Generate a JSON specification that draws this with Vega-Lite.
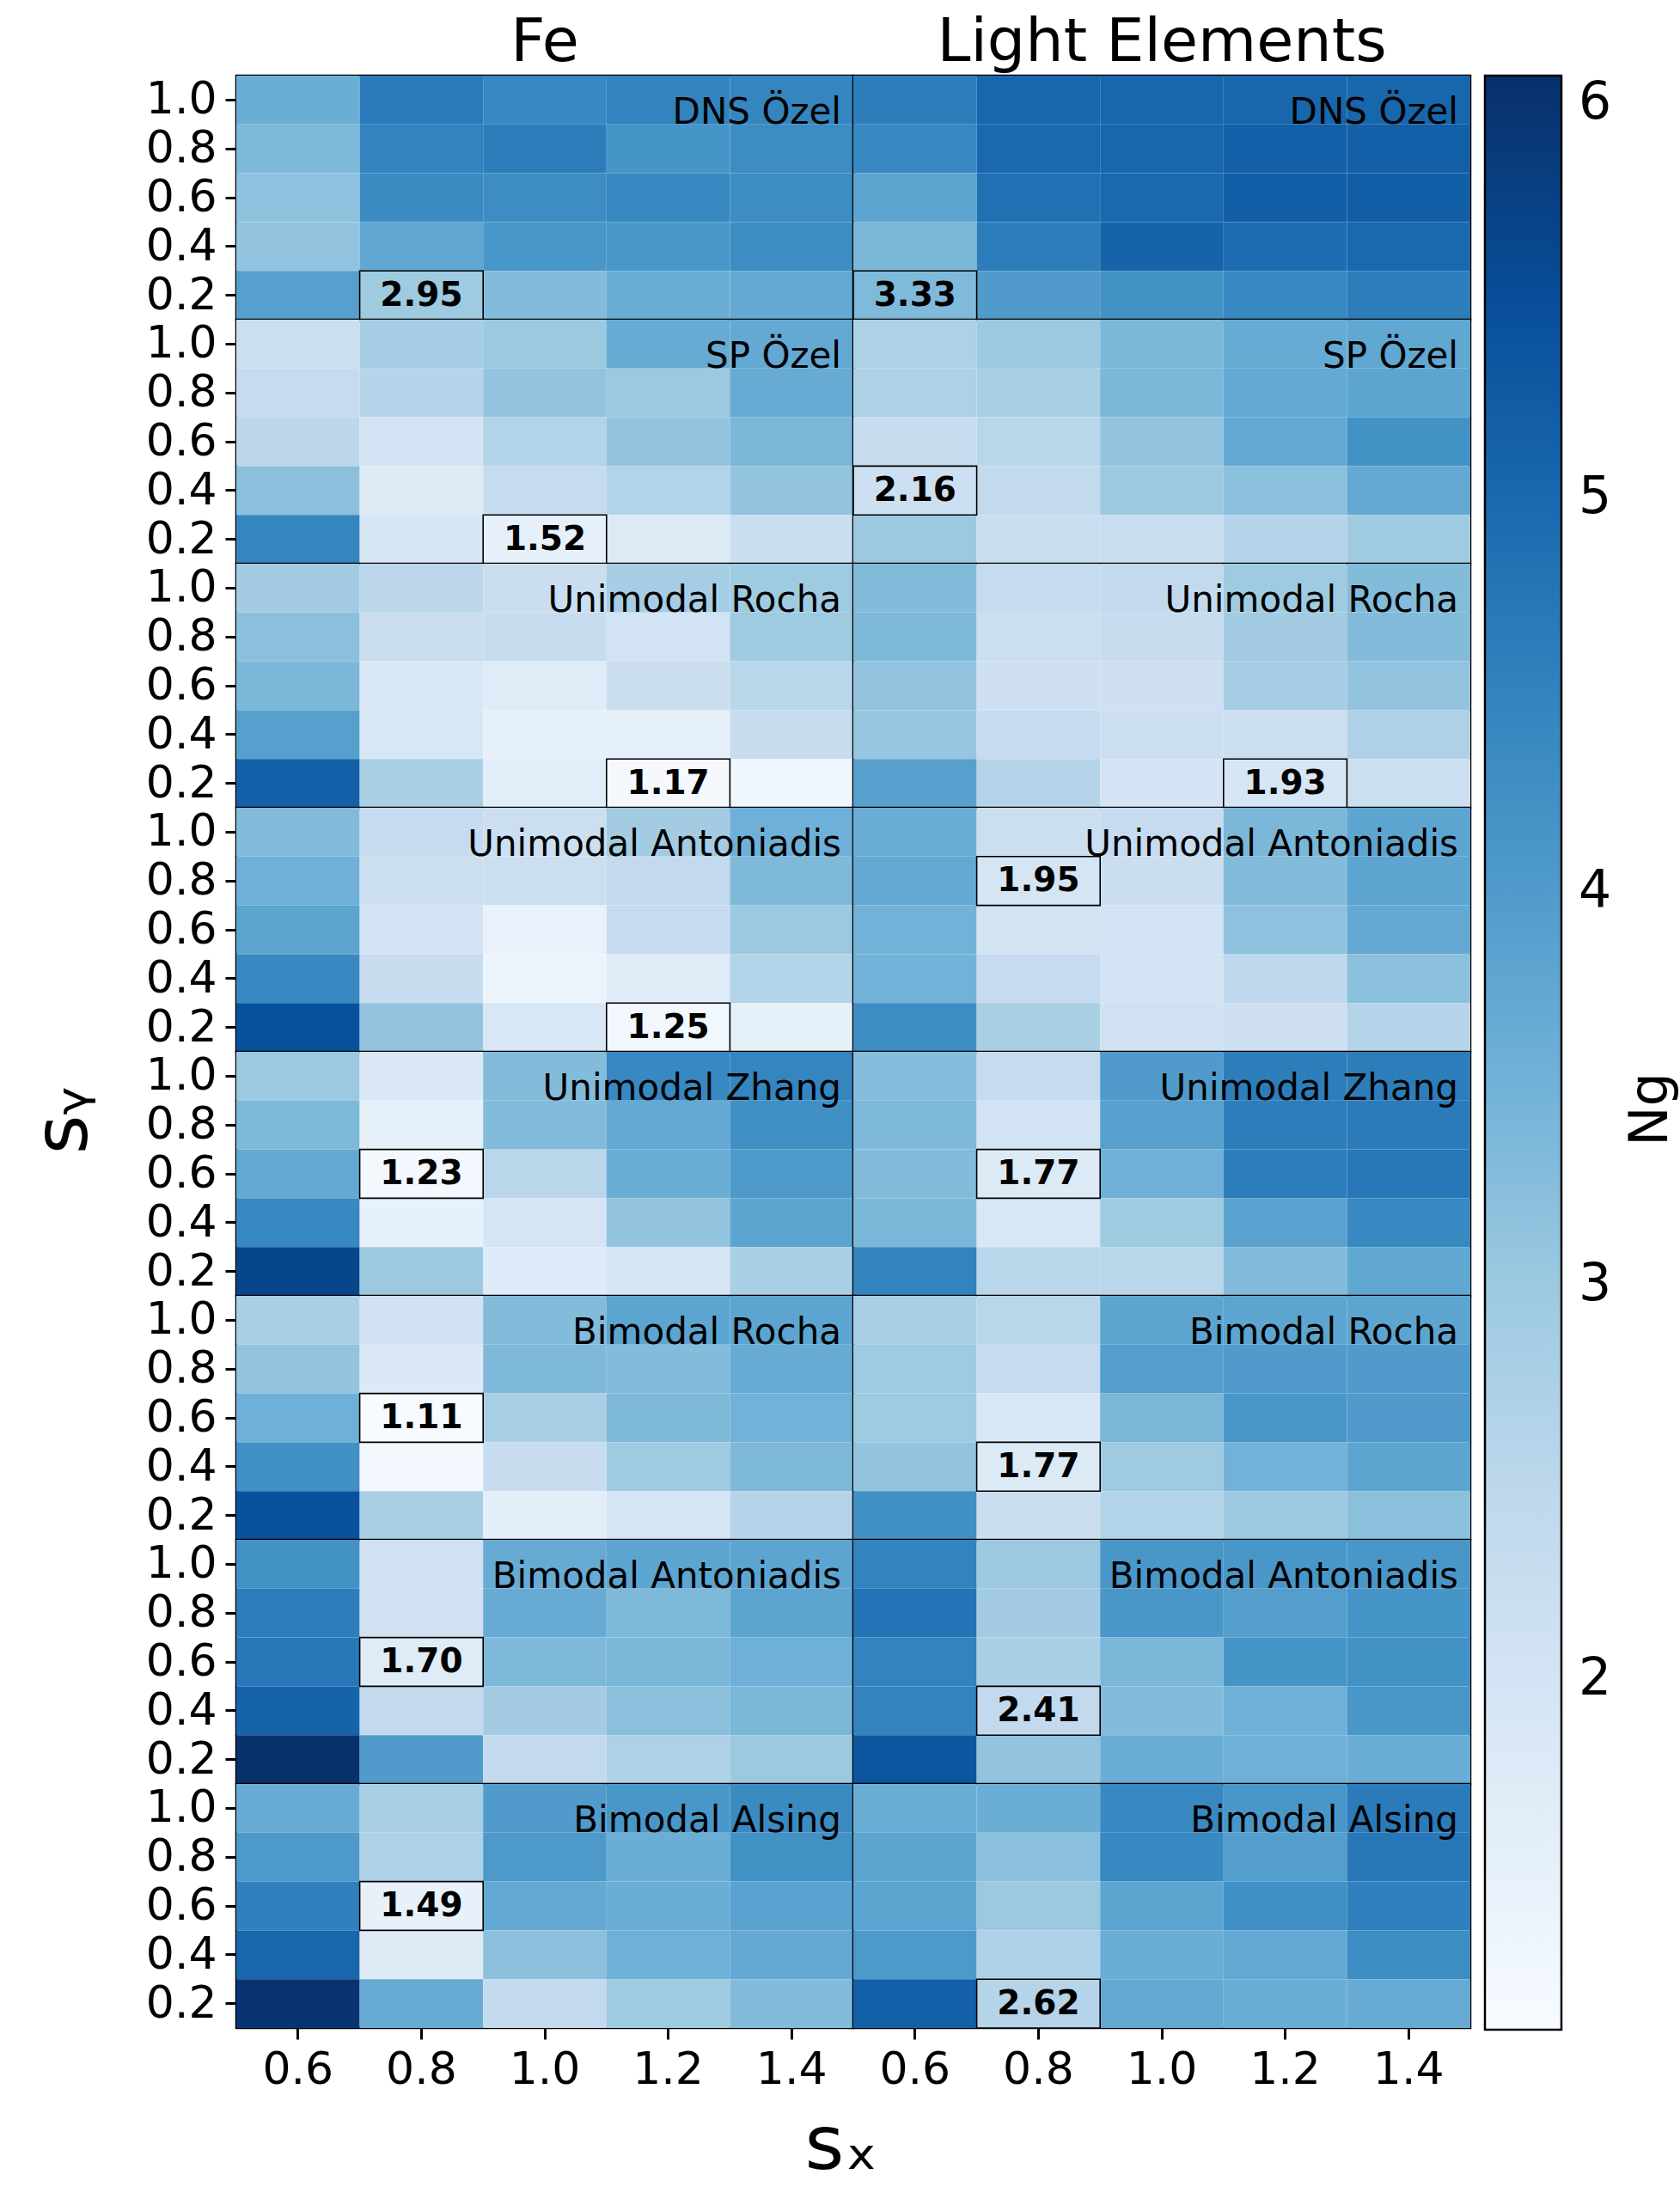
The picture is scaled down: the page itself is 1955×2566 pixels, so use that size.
{
  "$schema": "https://vega.github.io/schema/vega-lite/v6.json",
  "background": "white",
  "bounds": "flush",
  "padding": {"left": 30, "top": 15, "right": 2, "bottom": 5},
  "config": {
    "font": "DejaVu Sans",
    "view": {"stroke": "black", "strokeWidth": 2.5},
    "axis": {"labelFont": "DejaVu Sans", "labelFontSize": 52, "labelColor": "black", "tickColor": "black", "tickWidth": 3, "tickSize": 13, "domain": false, "grid": false, "title": null, "labelPadding": 10},
    "header": {"labelFont": "DejaVu Sans", "titleFont": "DejaVu Sans", "labelColor": "black", "titleColor": "black", "titleFontWeight": "normal"}
  },
  "data": {"values": [
    {"m":"DNS Özel","e":"Fe","sx":"0.6","sy":"1.0","v":3.60},{"m":"DNS Özel","e":"Fe","sx":"0.8","sy":"1.0","v":4.65},{"m":"DNS Özel","e":"Fe","sx":"1.0","sy":"1.0","v":4.40},{"m":"DNS Özel","e":"Fe","sx":"1.2","sy":"1.0","v":4.50},{"m":"DNS Özel","e":"Fe","sx":"1.4","sy":"1.0","v":4.45},
    {"m":"DNS Özel","e":"Fe","sx":"0.6","sy":"0.8","v":3.35},{"m":"DNS Özel","e":"Fe","sx":"0.8","sy":"0.8","v":4.50},{"m":"DNS Özel","e":"Fe","sx":"1.0","sy":"0.8","v":4.60},{"m":"DNS Özel","e":"Fe","sx":"1.2","sy":"0.8","v":4.15},{"m":"DNS Özel","e":"Fe","sx":"1.4","sy":"0.8","v":4.30},
    {"m":"DNS Özel","e":"Fe","sx":"0.6","sy":"0.6","v":3.15},{"m":"DNS Özel","e":"Fe","sx":"0.8","sy":"0.6","v":4.35},{"m":"DNS Özel","e":"Fe","sx":"1.0","sy":"0.6","v":4.30},{"m":"DNS Özel","e":"Fe","sx":"1.2","sy":"0.6","v":4.40},{"m":"DNS Özel","e":"Fe","sx":"1.4","sy":"0.6","v":4.30},
    {"m":"DNS Özel","e":"Fe","sx":"0.6","sy":"0.4","v":3.10},{"m":"DNS Özel","e":"Fe","sx":"0.8","sy":"0.4","v":3.75},{"m":"DNS Özel","e":"Fe","sx":"1.0","sy":"0.4","v":4.10},{"m":"DNS Özel","e":"Fe","sx":"1.2","sy":"0.4","v":4.10},{"m":"DNS Özel","e":"Fe","sx":"1.4","sy":"0.4","v":4.30},
    {"m":"DNS Özel","e":"Fe","sx":"0.6","sy":"0.2","v":3.90},{"m":"DNS Özel","e":"Fe","sx":"0.8","sy":"0.2","v":2.95},{"m":"DNS Özel","e":"Fe","sx":"1.0","sy":"0.2","v":3.30},{"m":"DNS Özel","e":"Fe","sx":"1.2","sy":"0.2","v":3.60},{"m":"DNS Özel","e":"Fe","sx":"1.4","sy":"0.2","v":3.70},

    {"m":"DNS Özel","e":"Light Elements","sx":"0.6","sy":"1.0","v":4.60},{"m":"DNS Özel","e":"Light Elements","sx":"0.8","sy":"1.0","v":5.05},{"m":"DNS Özel","e":"Light Elements","sx":"1.0","sy":"1.0","v":5.05},{"m":"DNS Özel","e":"Light Elements","sx":"1.2","sy":"1.0","v":5.05},{"m":"DNS Özel","e":"Light Elements","sx":"1.4","sy":"1.0","v":5.05},
    {"m":"DNS Özel","e":"Light Elements","sx":"0.6","sy":"0.8","v":4.40},{"m":"DNS Özel","e":"Light Elements","sx":"0.8","sy":"0.8","v":5.00},{"m":"DNS Özel","e":"Light Elements","sx":"1.0","sy":"0.8","v":5.05},{"m":"DNS Özel","e":"Light Elements","sx":"1.2","sy":"0.8","v":5.15},{"m":"DNS Özel","e":"Light Elements","sx":"1.4","sy":"0.8","v":5.15},
    {"m":"DNS Özel","e":"Light Elements","sx":"0.6","sy":"0.6","v":3.80},{"m":"DNS Özel","e":"Light Elements","sx":"0.8","sy":"0.6","v":4.85},{"m":"DNS Özel","e":"Light Elements","sx":"1.0","sy":"0.6","v":5.00},{"m":"DNS Özel","e":"Light Elements","sx":"1.2","sy":"0.6","v":5.20},{"m":"DNS Özel","e":"Light Elements","sx":"1.4","sy":"0.6","v":5.20},
    {"m":"DNS Özel","e":"Light Elements","sx":"0.6","sy":"0.4","v":3.40},{"m":"DNS Özel","e":"Light Elements","sx":"0.8","sy":"0.4","v":4.60},{"m":"DNS Özel","e":"Light Elements","sx":"1.0","sy":"0.4","v":5.10},{"m":"DNS Özel","e":"Light Elements","sx":"1.2","sy":"0.4","v":4.90},{"m":"DNS Özel","e":"Light Elements","sx":"1.4","sy":"0.4","v":5.00},
    {"m":"DNS Özel","e":"Light Elements","sx":"0.6","sy":"0.2","v":3.33},{"m":"DNS Özel","e":"Light Elements","sx":"0.8","sy":"0.2","v":4.00},{"m":"DNS Özel","e":"Light Elements","sx":"1.0","sy":"0.2","v":4.20},{"m":"DNS Özel","e":"Light Elements","sx":"1.2","sy":"0.2","v":4.40},{"m":"DNS Özel","e":"Light Elements","sx":"1.4","sy":"0.2","v":4.60},

    {"m":"SP Özel","e":"Fe","sx":"0.6","sy":"1.0","v":2.20},{"m":"SP Özel","e":"Fe","sx":"0.8","sy":"1.0","v":2.85},{"m":"SP Özel","e":"Fe","sx":"1.0","sy":"1.0","v":3.00},{"m":"SP Özel","e":"Fe","sx":"1.2","sy":"1.0","v":3.65},{"m":"SP Özel","e":"Fe","sx":"1.4","sy":"1.0","v":3.70},
    {"m":"SP Özel","e":"Fe","sx":"0.6","sy":"0.8","v":2.35},{"m":"SP Özel","e":"Fe","sx":"0.8","sy":"0.8","v":2.60},{"m":"SP Özel","e":"Fe","sx":"1.0","sy":"0.8","v":3.10},{"m":"SP Özel","e":"Fe","sx":"1.2","sy":"0.8","v":3.00},{"m":"SP Özel","e":"Fe","sx":"1.4","sy":"0.8","v":3.65},
    {"m":"SP Özel","e":"Fe","sx":"0.6","sy":"0.6","v":2.50},{"m":"SP Özel","e":"Fe","sx":"0.8","sy":"0.6","v":2.05},{"m":"SP Özel","e":"Fe","sx":"1.0","sy":"0.6","v":2.65},{"m":"SP Özel","e":"Fe","sx":"1.2","sy":"0.6","v":3.10},{"m":"SP Özel","e":"Fe","sx":"1.4","sy":"0.6","v":3.40},
    {"m":"SP Özel","e":"Fe","sx":"0.6","sy":"0.4","v":3.20},{"m":"SP Özel","e":"Fe","sx":"0.8","sy":"0.4","v":1.73},{"m":"SP Özel","e":"Fe","sx":"1.0","sy":"0.4","v":2.35},{"m":"SP Özel","e":"Fe","sx":"1.2","sy":"0.4","v":2.65},{"m":"SP Özel","e":"Fe","sx":"1.4","sy":"0.4","v":3.10},
    {"m":"SP Özel","e":"Fe","sx":"0.6","sy":"0.2","v":4.45},{"m":"SP Özel","e":"Fe","sx":"0.8","sy":"0.2","v":1.95},{"m":"SP Özel","e":"Fe","sx":"1.0","sy":"0.2","v":1.52},{"m":"SP Özel","e":"Fe","sx":"1.2","sy":"0.2","v":1.78},{"m":"SP Özel","e":"Fe","sx":"1.4","sy":"0.2","v":2.25},

    {"m":"SP Özel","e":"Light Elements","sx":"0.6","sy":"1.0","v":2.70},{"m":"SP Özel","e":"Light Elements","sx":"0.8","sy":"1.0","v":3.00},{"m":"SP Özel","e":"Light Elements","sx":"1.0","sy":"1.0","v":3.40},{"m":"SP Özel","e":"Light Elements","sx":"1.2","sy":"1.0","v":3.65},{"m":"SP Özel","e":"Light Elements","sx":"1.4","sy":"1.0","v":3.75},
    {"m":"SP Özel","e":"Light Elements","sx":"0.6","sy":"0.8","v":2.70},{"m":"SP Özel","e":"Light Elements","sx":"0.8","sy":"0.8","v":2.80},{"m":"SP Özel","e":"Light Elements","sx":"1.0","sy":"0.8","v":3.40},{"m":"SP Özel","e":"Light Elements","sx":"1.2","sy":"0.8","v":3.70},{"m":"SP Özel","e":"Light Elements","sx":"1.4","sy":"0.8","v":3.80},
    {"m":"SP Özel","e":"Light Elements","sx":"0.6","sy":"0.6","v":2.30},{"m":"SP Özel","e":"Light Elements","sx":"0.8","sy":"0.6","v":2.55},{"m":"SP Özel","e":"Light Elements","sx":"1.0","sy":"0.6","v":3.10},{"m":"SP Özel","e":"Light Elements","sx":"1.2","sy":"0.6","v":3.70},{"m":"SP Özel","e":"Light Elements","sx":"1.4","sy":"0.6","v":4.20},
    {"m":"SP Özel","e":"Light Elements","sx":"0.6","sy":"0.4","v":2.16},{"m":"SP Özel","e":"Light Elements","sx":"0.8","sy":"0.4","v":2.40},{"m":"SP Özel","e":"Light Elements","sx":"1.0","sy":"0.4","v":3.00},{"m":"SP Özel","e":"Light Elements","sx":"1.2","sy":"0.4","v":3.20},{"m":"SP Özel","e":"Light Elements","sx":"1.4","sy":"0.4","v":3.70},
    {"m":"SP Özel","e":"Light Elements","sx":"0.6","sy":"0.2","v":3.00},{"m":"SP Özel","e":"Light Elements","sx":"0.8","sy":"0.2","v":2.22},{"m":"SP Özel","e":"Light Elements","sx":"1.0","sy":"0.2","v":2.27},{"m":"SP Özel","e":"Light Elements","sx":"1.2","sy":"0.2","v":2.60},{"m":"SP Özel","e":"Light Elements","sx":"1.4","sy":"0.2","v":2.95},

    {"m":"Unimodal Rocha","e":"Fe","sx":"0.6","sy":"1.0","v":2.90},{"m":"Unimodal Rocha","e":"Fe","sx":"0.8","sy":"1.0","v":2.50},{"m":"Unimodal Rocha","e":"Fe","sx":"1.0","sy":"1.0","v":2.25},{"m":"Unimodal Rocha","e":"Fe","sx":"1.2","sy":"1.0","v":2.85},{"m":"Unimodal Rocha","e":"Fe","sx":"1.4","sy":"1.0","v":2.95},
    {"m":"Unimodal Rocha","e":"Fe","sx":"0.6","sy":"0.8","v":3.20},{"m":"Unimodal Rocha","e":"Fe","sx":"0.8","sy":"0.8","v":2.25},{"m":"Unimodal Rocha","e":"Fe","sx":"1.0","sy":"0.8","v":2.30},{"m":"Unimodal Rocha","e":"Fe","sx":"1.2","sy":"0.8","v":2.05},{"m":"Unimodal Rocha","e":"Fe","sx":"1.4","sy":"0.8","v":2.95},
    {"m":"Unimodal Rocha","e":"Fe","sx":"0.6","sy":"0.6","v":3.40},{"m":"Unimodal Rocha","e":"Fe","sx":"0.8","sy":"0.6","v":1.90},{"m":"Unimodal Rocha","e":"Fe","sx":"1.0","sy":"0.6","v":1.70},{"m":"Unimodal Rocha","e":"Fe","sx":"1.2","sy":"0.6","v":2.25},{"m":"Unimodal Rocha","e":"Fe","sx":"1.4","sy":"0.6","v":2.55},
    {"m":"Unimodal Rocha","e":"Fe","sx":"0.6","sy":"0.4","v":3.90},{"m":"Unimodal Rocha","e":"Fe","sx":"0.8","sy":"0.4","v":1.90},{"m":"Unimodal Rocha","e":"Fe","sx":"1.0","sy":"0.4","v":1.55},{"m":"Unimodal Rocha","e":"Fe","sx":"1.2","sy":"0.4","v":1.55},{"m":"Unimodal Rocha","e":"Fe","sx":"1.4","sy":"0.4","v":2.30},
    {"m":"Unimodal Rocha","e":"Fe","sx":"0.6","sy":"0.2","v":5.15},{"m":"Unimodal Rocha","e":"Fe","sx":"0.8","sy":"0.2","v":2.80},{"m":"Unimodal Rocha","e":"Fe","sx":"1.0","sy":"0.2","v":1.65},{"m":"Unimodal Rocha","e":"Fe","sx":"1.2","sy":"0.2","v":1.17},{"m":"Unimodal Rocha","e":"Fe","sx":"1.4","sy":"0.2","v":1.30},

    {"m":"Unimodal Rocha","e":"Light Elements","sx":"0.6","sy":"1.0","v":3.30},{"m":"Unimodal Rocha","e":"Light Elements","sx":"0.8","sy":"1.0","v":2.35},{"m":"Unimodal Rocha","e":"Light Elements","sx":"1.0","sy":"1.0","v":2.40},{"m":"Unimodal Rocha","e":"Light Elements","sx":"1.2","sy":"1.0","v":2.95},{"m":"Unimodal Rocha","e":"Light Elements","sx":"1.4","sy":"1.0","v":3.30},
    {"m":"Unimodal Rocha","e":"Light Elements","sx":"0.6","sy":"0.8","v":3.35},{"m":"Unimodal Rocha","e":"Light Elements","sx":"0.8","sy":"0.8","v":2.20},{"m":"Unimodal Rocha","e":"Light Elements","sx":"1.0","sy":"0.8","v":2.30},{"m":"Unimodal Rocha","e":"Light Elements","sx":"1.2","sy":"0.8","v":2.90},{"m":"Unimodal Rocha","e":"Light Elements","sx":"1.4","sy":"0.8","v":3.30},
    {"m":"Unimodal Rocha","e":"Light Elements","sx":"0.6","sy":"0.6","v":3.10},{"m":"Unimodal Rocha","e":"Light Elements","sx":"0.8","sy":"0.6","v":2.15},{"m":"Unimodal Rocha","e":"Light Elements","sx":"1.0","sy":"0.6","v":2.15},{"m":"Unimodal Rocha","e":"Light Elements","sx":"1.2","sy":"0.6","v":2.85},{"m":"Unimodal Rocha","e":"Light Elements","sx":"1.4","sy":"0.6","v":3.10},
    {"m":"Unimodal Rocha","e":"Light Elements","sx":"0.6","sy":"0.4","v":3.05},{"m":"Unimodal Rocha","e":"Light Elements","sx":"0.8","sy":"0.4","v":2.35},{"m":"Unimodal Rocha","e":"Light Elements","sx":"1.0","sy":"0.4","v":2.20},{"m":"Unimodal Rocha","e":"Light Elements","sx":"1.2","sy":"0.4","v":2.20},{"m":"Unimodal Rocha","e":"Light Elements","sx":"1.4","sy":"0.4","v":2.70},
    {"m":"Unimodal Rocha","e":"Light Elements","sx":"0.6","sy":"0.2","v":3.90},{"m":"Unimodal Rocha","e":"Light Elements","sx":"0.8","sy":"0.2","v":2.60},{"m":"Unimodal Rocha","e":"Light Elements","sx":"1.0","sy":"0.2","v":2.00},{"m":"Unimodal Rocha","e":"Light Elements","sx":"1.2","sy":"0.2","v":1.93},{"m":"Unimodal Rocha","e":"Light Elements","sx":"1.4","sy":"0.2","v":2.20},

    {"m":"Unimodal Antoniadis","e":"Fe","sx":"0.6","sy":"1.0","v":3.30},{"m":"Unimodal Antoniadis","e":"Fe","sx":"0.8","sy":"1.0","v":2.35},{"m":"Unimodal Antoniadis","e":"Fe","sx":"1.0","sy":"1.0","v":2.20},{"m":"Unimodal Antoniadis","e":"Fe","sx":"1.2","sy":"1.0","v":2.90},{"m":"Unimodal Antoniadis","e":"Fe","sx":"1.4","sy":"1.0","v":3.55},
    {"m":"Unimodal Antoniadis","e":"Fe","sx":"0.6","sy":"0.8","v":3.55},{"m":"Unimodal Antoniadis","e":"Fe","sx":"0.8","sy":"0.8","v":2.20},{"m":"Unimodal Antoniadis","e":"Fe","sx":"1.0","sy":"0.8","v":2.20},{"m":"Unimodal Antoniadis","e":"Fe","sx":"1.2","sy":"0.8","v":2.40},{"m":"Unimodal Antoniadis","e":"Fe","sx":"1.4","sy":"0.8","v":3.35},
    {"m":"Unimodal Antoniadis","e":"Fe","sx":"0.6","sy":"0.6","v":3.80},{"m":"Unimodal Antoniadis","e":"Fe","sx":"0.8","sy":"0.6","v":2.05},{"m":"Unimodal Antoniadis","e":"Fe","sx":"1.0","sy":"0.6","v":1.45},{"m":"Unimodal Antoniadis","e":"Fe","sx":"1.2","sy":"0.6","v":2.35},{"m":"Unimodal Antoniadis","e":"Fe","sx":"1.4","sy":"0.6","v":3.00},
    {"m":"Unimodal Antoniadis","e":"Fe","sx":"0.6","sy":"0.4","v":4.40},{"m":"Unimodal Antoniadis","e":"Fe","sx":"0.8","sy":"0.4","v":2.30},{"m":"Unimodal Antoniadis","e":"Fe","sx":"1.0","sy":"0.4","v":1.35},{"m":"Unimodal Antoniadis","e":"Fe","sx":"1.2","sy":"0.4","v":1.70},{"m":"Unimodal Antoniadis","e":"Fe","sx":"1.4","sy":"0.4","v":2.65},
    {"m":"Unimodal Antoniadis","e":"Fe","sx":"0.6","sy":"0.2","v":5.45},{"m":"Unimodal Antoniadis","e":"Fe","sx":"0.8","sy":"0.2","v":3.10},{"m":"Unimodal Antoniadis","e":"Fe","sx":"1.0","sy":"0.2","v":1.88},{"m":"Unimodal Antoniadis","e":"Fe","sx":"1.2","sy":"0.2","v":1.25},{"m":"Unimodal Antoniadis","e":"Fe","sx":"1.4","sy":"0.2","v":1.55},

    {"m":"Unimodal Antoniadis","e":"Light Elements","sx":"0.6","sy":"1.0","v":3.60},{"m":"Unimodal Antoniadis","e":"Light Elements","sx":"0.8","sy":"1.0","v":2.20},{"m":"Unimodal Antoniadis","e":"Light Elements","sx":"1.0","sy":"1.0","v":2.35},{"m":"Unimodal Antoniadis","e":"Light Elements","sx":"1.2","sy":"1.0","v":3.40},{"m":"Unimodal Antoniadis","e":"Light Elements","sx":"1.4","sy":"1.0","v":3.80},
    {"m":"Unimodal Antoniadis","e":"Light Elements","sx":"0.6","sy":"0.8","v":3.70},{"m":"Unimodal Antoniadis","e":"Light Elements","sx":"0.8","sy":"0.8","v":1.95},{"m":"Unimodal Antoniadis","e":"Light Elements","sx":"1.0","sy":"0.8","v":2.25},{"m":"Unimodal Antoniadis","e":"Light Elements","sx":"1.2","sy":"0.8","v":3.30},{"m":"Unimodal Antoniadis","e":"Light Elements","sx":"1.4","sy":"0.8","v":3.80},
    {"m":"Unimodal Antoniadis","e":"Light Elements","sx":"0.6","sy":"0.6","v":3.50},{"m":"Unimodal Antoniadis","e":"Light Elements","sx":"0.8","sy":"0.6","v":2.02},{"m":"Unimodal Antoniadis","e":"Light Elements","sx":"1.0","sy":"0.6","v":2.05},{"m":"Unimodal Antoniadis","e":"Light Elements","sx":"1.2","sy":"0.6","v":3.15},{"m":"Unimodal Antoniadis","e":"Light Elements","sx":"1.4","sy":"0.6","v":3.70},
    {"m":"Unimodal Antoniadis","e":"Light Elements","sx":"0.6","sy":"0.4","v":3.50},{"m":"Unimodal Antoniadis","e":"Light Elements","sx":"0.8","sy":"0.4","v":2.35},{"m":"Unimodal Antoniadis","e":"Light Elements","sx":"1.0","sy":"0.4","v":2.03},{"m":"Unimodal Antoniadis","e":"Light Elements","sx":"1.2","sy":"0.4","v":2.45},{"m":"Unimodal Antoniadis","e":"Light Elements","sx":"1.4","sy":"0.4","v":3.20},
    {"m":"Unimodal Antoniadis","e":"Light Elements","sx":"0.6","sy":"0.2","v":4.30},{"m":"Unimodal Antoniadis","e":"Light Elements","sx":"0.8","sy":"0.2","v":2.80},{"m":"Unimodal Antoniadis","e":"Light Elements","sx":"1.0","sy":"0.2","v":2.08},{"m":"Unimodal Antoniadis","e":"Light Elements","sx":"1.2","sy":"0.2","v":2.15},{"m":"Unimodal Antoniadis","e":"Light Elements","sx":"1.4","sy":"0.2","v":2.60},

    {"m":"Unimodal Zhang","e":"Fe","sx":"0.6","sy":"1.0","v":3.00},{"m":"Unimodal Zhang","e":"Fe","sx":"0.8","sy":"1.0","v":1.80},{"m":"Unimodal Zhang","e":"Fe","sx":"1.0","sy":"1.0","v":3.30},{"m":"Unimodal Zhang","e":"Fe","sx":"1.2","sy":"1.0","v":4.40},{"m":"Unimodal Zhang","e":"Fe","sx":"1.4","sy":"1.0","v":4.45},
    {"m":"Unimodal Zhang","e":"Fe","sx":"0.6","sy":"0.8","v":3.35},{"m":"Unimodal Zhang","e":"Fe","sx":"0.8","sy":"0.8","v":1.55},{"m":"Unimodal Zhang","e":"Fe","sx":"1.0","sy":"0.8","v":3.30},{"m":"Unimodal Zhang","e":"Fe","sx":"1.2","sy":"0.8","v":3.70},{"m":"Unimodal Zhang","e":"Fe","sx":"1.4","sy":"0.8","v":4.25},
    {"m":"Unimodal Zhang","e":"Fe","sx":"0.6","sy":"0.6","v":3.70},{"m":"Unimodal Zhang","e":"Fe","sx":"0.8","sy":"0.6","v":1.23},{"m":"Unimodal Zhang","e":"Fe","sx":"1.0","sy":"0.6","v":2.55},{"m":"Unimodal Zhang","e":"Fe","sx":"1.2","sy":"0.6","v":3.60},{"m":"Unimodal Zhang","e":"Fe","sx":"1.4","sy":"0.6","v":4.05},
    {"m":"Unimodal Zhang","e":"Fe","sx":"0.6","sy":"0.4","v":4.40},{"m":"Unimodal Zhang","e":"Fe","sx":"0.8","sy":"0.4","v":1.50},{"m":"Unimodal Zhang","e":"Fe","sx":"1.0","sy":"0.4","v":1.95},{"m":"Unimodal Zhang","e":"Fe","sx":"1.2","sy":"0.4","v":3.10},{"m":"Unimodal Zhang","e":"Fe","sx":"1.4","sy":"0.4","v":3.80},
    {"m":"Unimodal Zhang","e":"Fe","sx":"0.6","sy":"0.2","v":5.65},{"m":"Unimodal Zhang","e":"Fe","sx":"0.8","sy":"0.2","v":3.00},{"m":"Unimodal Zhang","e":"Fe","sx":"1.0","sy":"0.2","v":1.75},{"m":"Unimodal Zhang","e":"Fe","sx":"1.2","sy":"0.2","v":1.95},{"m":"Unimodal Zhang","e":"Fe","sx":"1.4","sy":"0.2","v":2.80},

    {"m":"Unimodal Zhang","e":"Light Elements","sx":"0.6","sy":"1.0","v":3.25},{"m":"Unimodal Zhang","e":"Light Elements","sx":"0.8","sy":"1.0","v":2.35},{"m":"Unimodal Zhang","e":"Light Elements","sx":"1.0","sy":"1.0","v":4.00},{"m":"Unimodal Zhang","e":"Light Elements","sx":"1.2","sy":"1.0","v":4.60},{"m":"Unimodal Zhang","e":"Light Elements","sx":"1.4","sy":"1.0","v":4.60},
    {"m":"Unimodal Zhang","e":"Light Elements","sx":"0.6","sy":"0.8","v":3.35},{"m":"Unimodal Zhang","e":"Light Elements","sx":"0.8","sy":"0.8","v":2.05},{"m":"Unimodal Zhang","e":"Light Elements","sx":"1.0","sy":"0.8","v":3.90},{"m":"Unimodal Zhang","e":"Light Elements","sx":"1.2","sy":"0.8","v":4.60},{"m":"Unimodal Zhang","e":"Light Elements","sx":"1.4","sy":"0.8","v":4.65},
    {"m":"Unimodal Zhang","e":"Light Elements","sx":"0.6","sy":"0.6","v":3.30},{"m":"Unimodal Zhang","e":"Light Elements","sx":"0.8","sy":"0.6","v":1.77},{"m":"Unimodal Zhang","e":"Light Elements","sx":"1.0","sy":"0.6","v":3.55},{"m":"Unimodal Zhang","e":"Light Elements","sx":"1.2","sy":"0.6","v":4.60},{"m":"Unimodal Zhang","e":"Light Elements","sx":"1.4","sy":"0.6","v":4.70},
    {"m":"Unimodal Zhang","e":"Light Elements","sx":"0.6","sy":"0.4","v":3.40},{"m":"Unimodal Zhang","e":"Light Elements","sx":"0.8","sy":"0.4","v":1.88},{"m":"Unimodal Zhang","e":"Light Elements","sx":"1.0","sy":"0.4","v":2.95},{"m":"Unimodal Zhang","e":"Light Elements","sx":"1.2","sy":"0.4","v":3.85},{"m":"Unimodal Zhang","e":"Light Elements","sx":"1.4","sy":"0.4","v":4.40},
    {"m":"Unimodal Zhang","e":"Light Elements","sx":"0.6","sy":"0.2","v":4.50},{"m":"Unimodal Zhang","e":"Light Elements","sx":"0.8","sy":"0.2","v":2.55},{"m":"Unimodal Zhang","e":"Light Elements","sx":"1.0","sy":"0.2","v":2.55},{"m":"Unimodal Zhang","e":"Light Elements","sx":"1.2","sy":"0.2","v":3.30},{"m":"Unimodal Zhang","e":"Light Elements","sx":"1.4","sy":"0.2","v":3.75},

    {"m":"Bimodal Rocha","e":"Fe","sx":"0.6","sy":"1.0","v":2.80},{"m":"Bimodal Rocha","e":"Fe","sx":"0.8","sy":"1.0","v":2.10},{"m":"Bimodal Rocha","e":"Fe","sx":"1.0","sy":"1.0","v":3.30},{"m":"Bimodal Rocha","e":"Fe","sx":"1.2","sy":"1.0","v":3.80},{"m":"Bimodal Rocha","e":"Fe","sx":"1.4","sy":"1.0","v":3.80},
    {"m":"Bimodal Rocha","e":"Fe","sx":"0.6","sy":"0.8","v":3.10},{"m":"Bimodal Rocha","e":"Fe","sx":"0.8","sy":"0.8","v":1.80},{"m":"Bimodal Rocha","e":"Fe","sx":"1.0","sy":"0.8","v":3.35},{"m":"Bimodal Rocha","e":"Fe","sx":"1.2","sy":"0.8","v":3.30},{"m":"Bimodal Rocha","e":"Fe","sx":"1.4","sy":"0.8","v":3.65},
    {"m":"Bimodal Rocha","e":"Fe","sx":"0.6","sy":"0.6","v":3.55},{"m":"Bimodal Rocha","e":"Fe","sx":"0.8","sy":"0.6","v":1.11},{"m":"Bimodal Rocha","e":"Fe","sx":"1.0","sy":"0.6","v":2.80},{"m":"Bimodal Rocha","e":"Fe","sx":"1.2","sy":"0.6","v":3.35},{"m":"Bimodal Rocha","e":"Fe","sx":"1.4","sy":"0.6","v":3.50},
    {"m":"Bimodal Rocha","e":"Fe","sx":"0.6","sy":"0.4","v":4.25},{"m":"Bimodal Rocha","e":"Fe","sx":"0.8","sy":"0.4","v":1.20},{"m":"Bimodal Rocha","e":"Fe","sx":"1.0","sy":"0.4","v":2.30},{"m":"Bimodal Rocha","e":"Fe","sx":"1.2","sy":"0.4","v":2.95},{"m":"Bimodal Rocha","e":"Fe","sx":"1.4","sy":"0.4","v":3.35},
    {"m":"Bimodal Rocha","e":"Fe","sx":"0.6","sy":"0.2","v":5.45},{"m":"Bimodal Rocha","e":"Fe","sx":"0.8","sy":"0.2","v":2.80},{"m":"Bimodal Rocha","e":"Fe","sx":"1.0","sy":"0.2","v":1.62},{"m":"Bimodal Rocha","e":"Fe","sx":"1.2","sy":"0.2","v":1.95},{"m":"Bimodal Rocha","e":"Fe","sx":"1.4","sy":"0.2","v":2.60},

    {"m":"Bimodal Rocha","e":"Light Elements","sx":"0.6","sy":"1.0","v":2.80},{"m":"Bimodal Rocha","e":"Light Elements","sx":"0.8","sy":"1.0","v":2.55},{"m":"Bimodal Rocha","e":"Light Elements","sx":"1.0","sy":"1.0","v":3.80},{"m":"Bimodal Rocha","e":"Light Elements","sx":"1.2","sy":"1.0","v":3.80},{"m":"Bimodal Rocha","e":"Light Elements","sx":"1.4","sy":"1.0","v":3.80},
    {"m":"Bimodal Rocha","e":"Light Elements","sx":"0.6","sy":"0.8","v":2.95},{"m":"Bimodal Rocha","e":"Light Elements","sx":"0.8","sy":"0.8","v":2.35},{"m":"Bimodal Rocha","e":"Light Elements","sx":"1.0","sy":"0.8","v":3.95},{"m":"Bimodal Rocha","e":"Light Elements","sx":"1.2","sy":"0.8","v":4.00},{"m":"Bimodal Rocha","e":"Light Elements","sx":"1.4","sy":"0.8","v":4.00},
    {"m":"Bimodal Rocha","e":"Light Elements","sx":"0.6","sy":"0.6","v":2.95},{"m":"Bimodal Rocha","e":"Light Elements","sx":"0.8","sy":"0.6","v":1.88},{"m":"Bimodal Rocha","e":"Light Elements","sx":"1.0","sy":"0.6","v":3.40},{"m":"Bimodal Rocha","e":"Light Elements","sx":"1.2","sy":"0.6","v":4.10},{"m":"Bimodal Rocha","e":"Light Elements","sx":"1.4","sy":"0.6","v":4.00},
    {"m":"Bimodal Rocha","e":"Light Elements","sx":"0.6","sy":"0.4","v":3.10},{"m":"Bimodal Rocha","e":"Light Elements","sx":"0.8","sy":"0.4","v":1.77},{"m":"Bimodal Rocha","e":"Light Elements","sx":"1.0","sy":"0.4","v":2.95},{"m":"Bimodal Rocha","e":"Light Elements","sx":"1.2","sy":"0.4","v":3.50},{"m":"Bimodal Rocha","e":"Light Elements","sx":"1.4","sy":"0.4","v":3.80},
    {"m":"Bimodal Rocha","e":"Light Elements","sx":"0.6","sy":"0.2","v":4.25},{"m":"Bimodal Rocha","e":"Light Elements","sx":"0.8","sy":"0.2","v":2.25},{"m":"Bimodal Rocha","e":"Light Elements","sx":"1.0","sy":"0.2","v":2.65},{"m":"Bimodal Rocha","e":"Light Elements","sx":"1.2","sy":"0.2","v":3.00},{"m":"Bimodal Rocha","e":"Light Elements","sx":"1.4","sy":"0.2","v":3.20},

    {"m":"Bimodal Antoniadis","e":"Fe","sx":"0.6","sy":"1.0","v":4.20},{"m":"Bimodal Antoniadis","e":"Fe","sx":"0.8","sy":"1.0","v":2.10},{"m":"Bimodal Antoniadis","e":"Fe","sx":"1.0","sy":"1.0","v":3.65},{"m":"Bimodal Antoniadis","e":"Fe","sx":"1.2","sy":"1.0","v":3.80},{"m":"Bimodal Antoniadis","e":"Fe","sx":"1.4","sy":"1.0","v":3.80},
    {"m":"Bimodal Antoniadis","e":"Fe","sx":"0.6","sy":"0.8","v":4.60},{"m":"Bimodal Antoniadis","e":"Fe","sx":"0.8","sy":"0.8","v":2.10},{"m":"Bimodal Antoniadis","e":"Fe","sx":"1.0","sy":"0.8","v":3.65},{"m":"Bimodal Antoniadis","e":"Fe","sx":"1.2","sy":"0.8","v":3.35},{"m":"Bimodal Antoniadis","e":"Fe","sx":"1.4","sy":"0.8","v":3.80},
    {"m":"Bimodal Antoniadis","e":"Fe","sx":"0.6","sy":"0.6","v":4.70},{"m":"Bimodal Antoniadis","e":"Fe","sx":"0.8","sy":"0.6","v":1.70},{"m":"Bimodal Antoniadis","e":"Fe","sx":"1.0","sy":"0.6","v":3.35},{"m":"Bimodal Antoniadis","e":"Fe","sx":"1.2","sy":"0.6","v":3.40},{"m":"Bimodal Antoniadis","e":"Fe","sx":"1.4","sy":"0.6","v":3.55},
    {"m":"Bimodal Antoniadis","e":"Fe","sx":"0.6","sy":"0.4","v":5.10},{"m":"Bimodal Antoniadis","e":"Fe","sx":"0.8","sy":"0.4","v":2.40},{"m":"Bimodal Antoniadis","e":"Fe","sx":"1.0","sy":"0.4","v":2.90},{"m":"Bimodal Antoniadis","e":"Fe","sx":"1.2","sy":"0.4","v":3.20},{"m":"Bimodal Antoniadis","e":"Fe","sx":"1.4","sy":"0.4","v":3.40},
    {"m":"Bimodal Antoniadis","e":"Fe","sx":"0.6","sy":"0.2","v":6.07},{"m":"Bimodal Antoniadis","e":"Fe","sx":"0.8","sy":"0.2","v":4.00},{"m":"Bimodal Antoniadis","e":"Fe","sx":"1.0","sy":"0.2","v":2.40},{"m":"Bimodal Antoniadis","e":"Fe","sx":"1.2","sy":"0.2","v":2.70},{"m":"Bimodal Antoniadis","e":"Fe","sx":"1.4","sy":"0.2","v":3.00},

    {"m":"Bimodal Antoniadis","e":"Light Elements","sx":"0.6","sy":"1.0","v":4.50},{"m":"Bimodal Antoniadis","e":"Light Elements","sx":"0.8","sy":"1.0","v":3.00},{"m":"Bimodal Antoniadis","e":"Light Elements","sx":"1.0","sy":"1.0","v":4.10},{"m":"Bimodal Antoniadis","e":"Light Elements","sx":"1.2","sy":"1.0","v":4.10},{"m":"Bimodal Antoniadis","e":"Light Elements","sx":"1.4","sy":"1.0","v":4.10},
    {"m":"Bimodal Antoniadis","e":"Light Elements","sx":"0.6","sy":"0.8","v":4.80},{"m":"Bimodal Antoniadis","e":"Light Elements","sx":"0.8","sy":"0.8","v":2.90},{"m":"Bimodal Antoniadis","e":"Light Elements","sx":"1.0","sy":"0.8","v":4.10},{"m":"Bimodal Antoniadis","e":"Light Elements","sx":"1.2","sy":"0.8","v":3.95},{"m":"Bimodal Antoniadis","e":"Light Elements","sx":"1.4","sy":"0.8","v":4.15},
    {"m":"Bimodal Antoniadis","e":"Light Elements","sx":"0.6","sy":"0.6","v":4.50},{"m":"Bimodal Antoniadis","e":"Light Elements","sx":"0.8","sy":"0.6","v":2.80},{"m":"Bimodal Antoniadis","e":"Light Elements","sx":"1.0","sy":"0.6","v":3.40},{"m":"Bimodal Antoniadis","e":"Light Elements","sx":"1.2","sy":"0.6","v":4.15},{"m":"Bimodal Antoniadis","e":"Light Elements","sx":"1.4","sy":"0.6","v":4.20},
    {"m":"Bimodal Antoniadis","e":"Light Elements","sx":"0.6","sy":"0.4","v":4.50},{"m":"Bimodal Antoniadis","e":"Light Elements","sx":"0.8","sy":"0.4","v":2.41},{"m":"Bimodal Antoniadis","e":"Light Elements","sx":"1.0","sy":"0.4","v":3.30},{"m":"Bimodal Antoniadis","e":"Light Elements","sx":"1.2","sy":"0.4","v":3.55},{"m":"Bimodal Antoniadis","e":"Light Elements","sx":"1.4","sy":"0.4","v":4.10},
    {"m":"Bimodal Antoniadis","e":"Light Elements","sx":"0.6","sy":"0.2","v":5.35},{"m":"Bimodal Antoniadis","e":"Light Elements","sx":"0.8","sy":"0.2","v":3.10},{"m":"Bimodal Antoniadis","e":"Light Elements","sx":"1.0","sy":"0.2","v":3.60},{"m":"Bimodal Antoniadis","e":"Light Elements","sx":"1.2","sy":"0.2","v":3.55},{"m":"Bimodal Antoniadis","e":"Light Elements","sx":"1.4","sy":"0.2","v":3.60},

    {"m":"Bimodal Alsing","e":"Fe","sx":"0.6","sy":"1.0","v":3.65},{"m":"Bimodal Alsing","e":"Fe","sx":"0.8","sy":"1.0","v":2.80},{"m":"Bimodal Alsing","e":"Fe","sx":"1.0","sy":"1.0","v":4.00},{"m":"Bimodal Alsing","e":"Fe","sx":"1.2","sy":"1.0","v":4.10},{"m":"Bimodal Alsing","e":"Fe","sx":"1.4","sy":"1.0","v":4.35},
    {"m":"Bimodal Alsing","e":"Fe","sx":"0.6","sy":"0.8","v":4.05},{"m":"Bimodal Alsing","e":"Fe","sx":"0.8","sy":"0.8","v":2.70},{"m":"Bimodal Alsing","e":"Fe","sx":"1.0","sy":"0.8","v":4.05},{"m":"Bimodal Alsing","e":"Fe","sx":"1.2","sy":"0.8","v":3.60},{"m":"Bimodal Alsing","e":"Fe","sx":"1.4","sy":"0.8","v":4.20},
    {"m":"Bimodal Alsing","e":"Fe","sx":"0.6","sy":"0.6","v":4.55},{"m":"Bimodal Alsing","e":"Fe","sx":"0.8","sy":"0.6","v":1.49},{"m":"Bimodal Alsing","e":"Fe","sx":"1.0","sy":"0.6","v":3.70},{"m":"Bimodal Alsing","e":"Fe","sx":"1.2","sy":"0.6","v":3.60},{"m":"Bimodal Alsing","e":"Fe","sx":"1.4","sy":"0.6","v":3.85},
    {"m":"Bimodal Alsing","e":"Fe","sx":"0.6","sy":"0.4","v":5.05},{"m":"Bimodal Alsing","e":"Fe","sx":"0.8","sy":"0.4","v":1.73},{"m":"Bimodal Alsing","e":"Fe","sx":"1.0","sy":"0.4","v":3.20},{"m":"Bimodal Alsing","e":"Fe","sx":"1.2","sy":"0.4","v":3.55},{"m":"Bimodal Alsing","e":"Fe","sx":"1.4","sy":"0.4","v":3.70},
    {"m":"Bimodal Alsing","e":"Fe","sx":"0.6","sy":"0.2","v":6.00},{"m":"Bimodal Alsing","e":"Fe","sx":"0.8","sy":"0.2","v":3.65},{"m":"Bimodal Alsing","e":"Fe","sx":"1.0","sy":"0.2","v":2.40},{"m":"Bimodal Alsing","e":"Fe","sx":"1.2","sy":"0.2","v":2.95},{"m":"Bimodal Alsing","e":"Fe","sx":"1.4","sy":"0.2","v":3.30},

    {"m":"Bimodal Alsing","e":"Light Elements","sx":"0.6","sy":"1.0","v":3.60},{"m":"Bimodal Alsing","e":"Light Elements","sx":"0.8","sy":"1.0","v":3.60},{"m":"Bimodal Alsing","e":"Light Elements","sx":"1.0","sy":"1.0","v":4.40},{"m":"Bimodal Alsing","e":"Light Elements","sx":"1.2","sy":"1.0","v":4.10},{"m":"Bimodal Alsing","e":"Light Elements","sx":"1.4","sy":"1.0","v":4.65},
    {"m":"Bimodal Alsing","e":"Light Elements","sx":"0.6","sy":"0.8","v":3.80},{"m":"Bimodal Alsing","e":"Light Elements","sx":"0.8","sy":"0.8","v":3.20},{"m":"Bimodal Alsing","e":"Light Elements","sx":"1.0","sy":"0.8","v":4.40},{"m":"Bimodal Alsing","e":"Light Elements","sx":"1.2","sy":"0.8","v":3.95},{"m":"Bimodal Alsing","e":"Light Elements","sx":"1.4","sy":"0.8","v":4.70},
    {"m":"Bimodal Alsing","e":"Light Elements","sx":"0.6","sy":"0.6","v":3.80},{"m":"Bimodal Alsing","e":"Light Elements","sx":"0.8","sy":"0.6","v":3.00},{"m":"Bimodal Alsing","e":"Light Elements","sx":"1.0","sy":"0.6","v":3.80},{"m":"Bimodal Alsing","e":"Light Elements","sx":"1.2","sy":"0.6","v":4.25},{"m":"Bimodal Alsing","e":"Light Elements","sx":"1.4","sy":"0.6","v":4.55},
    {"m":"Bimodal Alsing","e":"Light Elements","sx":"0.6","sy":"0.4","v":4.05},{"m":"Bimodal Alsing","e":"Light Elements","sx":"0.8","sy":"0.4","v":2.70},{"m":"Bimodal Alsing","e":"Light Elements","sx":"1.0","sy":"0.4","v":3.60},{"m":"Bimodal Alsing","e":"Light Elements","sx":"1.2","sy":"0.4","v":3.70},{"m":"Bimodal Alsing","e":"Light Elements","sx":"1.4","sy":"0.4","v":4.30},
    {"m":"Bimodal Alsing","e":"Light Elements","sx":"0.6","sy":"0.2","v":5.15},{"m":"Bimodal Alsing","e":"Light Elements","sx":"0.8","sy":"0.2","v":2.62},{"m":"Bimodal Alsing","e":"Light Elements","sx":"1.0","sy":"0.2","v":3.70},{"m":"Bimodal Alsing","e":"Light Elements","sx":"1.2","sy":"0.2","v":3.60},{"m":"Bimodal Alsing","e":"Light Elements","sx":"1.4","sy":"0.2","v":3.65}
  ]},
  "spacing": {"row": 0, "column": 0},
  "facet": {
    "row": {
      "field": "m", "type": "nominal",
      "sort": ["DNS Özel", "SP Özel", "Unimodal Rocha", "Unimodal Antoniadis", "Unimodal Zhang", "Bimodal Rocha", "Bimodal Antoniadis", "Bimodal Alsing"],
      "header": {"title": "sᵧ\u2003\u2002\u00a0\u200d", "titleOrient": "left", "labels": false, "titleFontSize": 88, "titlePadding": 40}
    },
    "column": {
      "field": "e", "type": "nominal",
      "sort": ["Fe", "Light Elements"],
      "header": {"title": "sₓ\u00a0\u200d", "titleOrient": "bottom", "labelOrient": "top", "labelFontSize": 70, "labelPadding": 2, "titleFontSize": 88, "titlePadding": 10}
    }
  },
  "spec": {
    "width": 718,
    "height": 284,
    "encoding": {
      "x": {"field": "sx", "type": "ordinal", "sort": ["0.6", "0.8", "1.0", "1.2", "1.4"], "axis": {"labelAngle": 0}},
      "y": {"field": "sy", "type": "ordinal", "sort": ["1.0", "0.8", "0.6", "0.4", "0.2"]}
    },
    "layer": [
      {
        "mark": {"type": "rect"},
        "encoding": {
          "color": {
            "field": "v", "type": "quantitative",
            "scale": {
              "domain": [1.11, 1.73, 2.35, 2.97, 3.59, 4.21, 4.83, 5.45, 6.07],
              "range": ["#f7fbff", "#deebf7", "#c6dbef", "#9ecae1", "#6baed6", "#4292c6", "#2171b5", "#08519c", "#08306b"],
              "interpolate": "rgb"
            },
            "legend": {
              "title": "Ng",
              "values": [2, 3, 4, 5, 6],
              "format": "d",
              "direction": "vertical",
              "orient": "right",
              "offset": 15,
              "gradientLength": 2274,
              "gradientThickness": 89,
              "gradientStrokeColor": "black",
              "gradientStrokeWidth": 2.5,
              "labelFontSize": 60,
              "labelColor": "black",
              "labelOffset": 20,
              "labelOverlap": false,
              "titleOrient": "right",
              "titleAnchor": "middle",
              "titleFontSize": 62,
              "titleFontWeight": "normal",
              "titleColor": "black",
              "titleLimit": 1000,
              "titlePadding": 10,
              "encode": {"title": {"update": {"angle": {"value": 270}, "dx": {"value": -65}, "dy": {"value": 68}}}}
            }
          }
        }
      },
      {
        "transform": [
          {"joinaggregate": [{"op": "min", "field": "v", "as": "vmin"}], "groupby": ["m", "e"]},
          {"filter": "datum.v === datum.vmin"}
        ],
        "mark": {"type": "rect", "fillOpacity": 0, "stroke": "black", "strokeWidth": 1.6}
      },
      {
        "transform": [
          {"joinaggregate": [{"op": "min", "field": "v", "as": "vmin"}], "groupby": ["m", "e"]},
          {"filter": "datum.v === datum.vmin"}
        ],
        "mark": {"type": "text", "fontWeight": "bold", "fontSize": 39, "color": "black"},
        "encoding": {"text": {"field": "v", "type": "quantitative", "format": ".2f"}}
      },
      {
        "transform": [{"filter": "datum.sx === '1.4' && datum.sy === '1.0'"}],
        "mark": {"type": "text", "align": "right", "baseline": "alphabetic", "fontSize": 42, "dx": -14, "dy": 56, "color": "black"},
        "encoding": {
          "x": {"field": "sx", "type": "ordinal", "bandPosition": 1},
          "y": {"field": "sy", "type": "ordinal", "bandPosition": 0},
          "text": {"field": "m"}
        }
      }
    ]
  }
}
